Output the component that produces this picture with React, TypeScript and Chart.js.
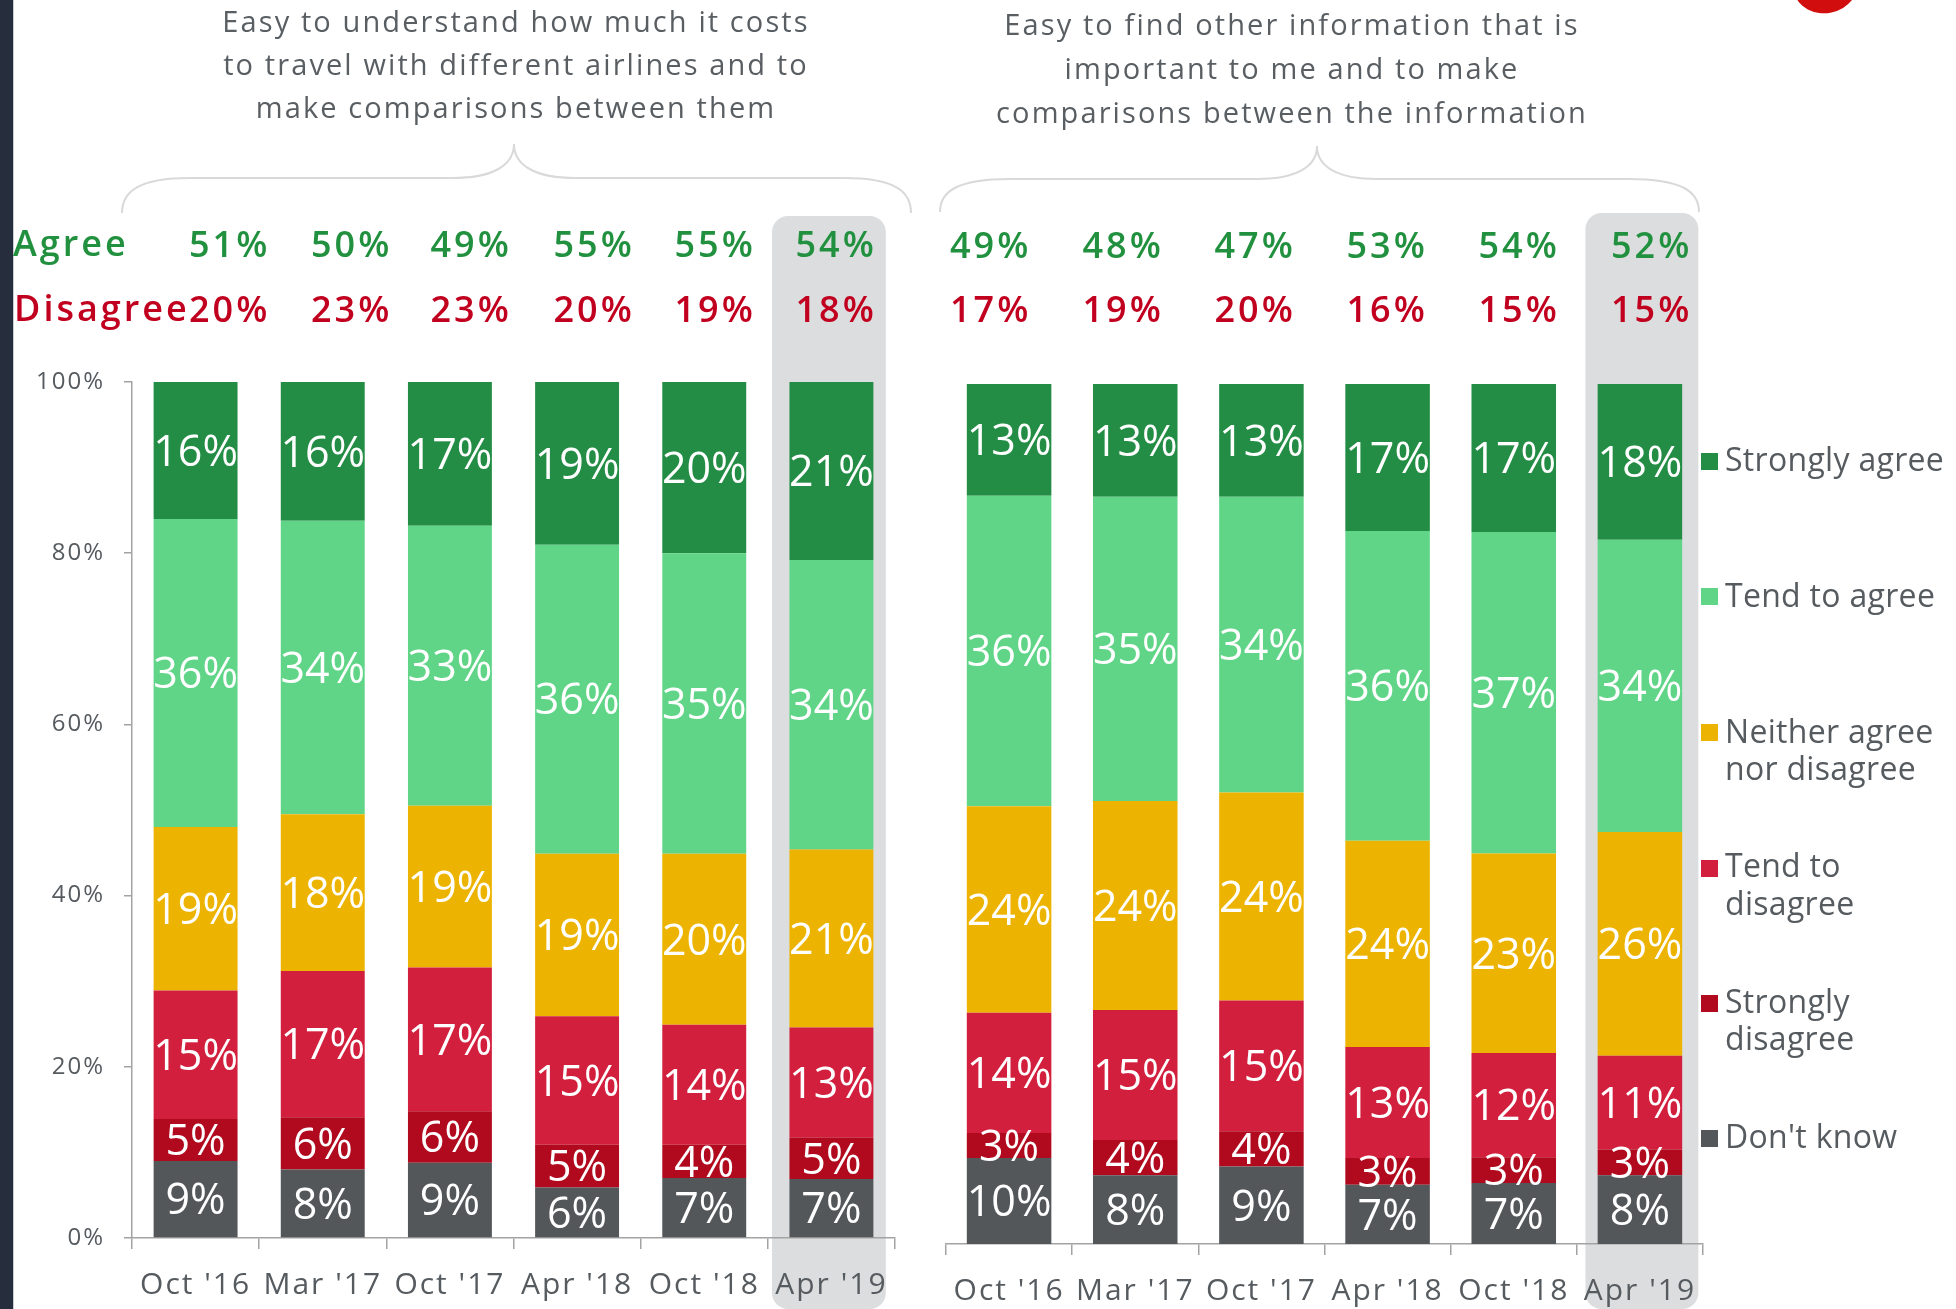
import React, { useEffect, useRef } from "react";
import { Chart, registerables } from "chart.js";

Chart.register(...registerables);

// ---------------- DATA ----------------
const categories = ["Oct '16", "Mar '17", "Oct '17", "Apr '18", "Oct '18", "Apr '19"];
const seriesNames = [
  "Don't know",
  "Strongly disagree",
  "Tend to disagree",
  "Neither agree nor disagree",
  "Tend to agree",
  "Strongly agree",
];
const seriesColors = ["#53575a", "#b1091d", "#d21f3d", "#ecb400", "#60d587", "#248d45"];

// Left panel: "Easy to understand how much it costs ..."
const dontKnowL = [9.0, 8.0, 8.8, 5.9, 7.0, 6.9];
const stronglyDisagreeL = [4.9, 6.1, 6.0, 5.0, 3.9, 4.8];
const tendDisagreeL = [15.0, 17.1, 16.8, 15.0, 14.0, 12.9];
const neitherL = [19.1, 18.3, 18.9, 19.0, 20.0, 20.8];
const tendAgreeL = [36.0, 34.3, 32.7, 36.1, 35.1, 33.8];
const stronglyAgreeL = [16.0, 16.2, 16.8, 19.0, 20.0, 20.8];
const agreeL = [51, 50, 49, 55, 55, 54];
const disagreeL = [20, 23, 23, 20, 19, 18];

// Right panel: "Easy to find other information ..."
const dontKnowR = [10.0, 8.0, 9.0, 6.9, 7.1, 8.0];
const stronglyDisagreeR = [2.9, 4.1, 4.1, 3.1, 3.0, 3.0];
const tendDisagreeR = [14.0, 15.1, 15.2, 12.9, 12.1, 10.9];
const neitherR = [24.0, 24.3, 24.2, 24.0, 23.2, 26.0];
const tendAgreeR = [36.1, 35.4, 34.4, 36.0, 37.4, 34.0];
const stronglyAgreeR = [13.0, 13.1, 13.1, 17.1, 17.2, 18.1];
const agreeR = [49, 48, 47, 53, 54, 52];
const disagreeR = [17, 19, 20, 16, 15, 15];

const yTickValues = [0, 20, 40, 60, 80, 100];

const titleL = [
  "Easy to understand how much it costs",
  "to travel with different airlines and to",
  "make comparisons between them",
];
const titleR = [
  "Easy to find other information that is",
  "important to me and to make",
  "comparisons between the information",
];
const legendLines = [
  ["Strongly agree"],
  ["Tend to agree"],
  ["Neither agree", "nor disagree"],
  ["Tend to", "disagree"],
  ["Strongly", "disagree"],
  ["Don't know"],
];
const legendColors = ["#248d45", "#60d587", "#ecb400", "#d21f3d", "#b1091d", "#53575a"];

// ---------------- LAYOUT / STYLE ----------------
const W = 1956;
const H = 1309;
const FONT = '"Open Sans", "Noto Sans", sans-serif';
const GRAY_TEXT = "#565b60";
const AXIS = "#a3a3a3";
const GREEN = "#22913f";
const RED = "#c1001f";
const HL = "#dcdddf";

const headerXL = [189, 311, 430.5, 553.5, 674.5, 795.5];
const headerXR = [950, 1082.5, 1214.5, 1346.5, 1478.5, 1611];

const OS_ASC = 1.069;
const OS_LH = 1.362;

// ---------------- PLUGINS ----------------
const highlightPlugin = {
  id: "highlight",
  beforeDraw(chart: any, _args: any, opts: any) {
    const xs = chart.scales.x;
    const n = chart.data.labels.length;
    const cx = xs.getPixelForValue(n - 1) + opts.shift;
    const w = (xs.width / n) * opts.widthRatio;
    const ctx = chart.ctx;
    ctx.save();
    ctx.fillStyle = opts.color;
    ctx.beginPath();
    ctx.roundRect(cx - w / 2, opts.top, w, chart.height - opts.top, opts.radius);
    ctx.fill();
    ctx.restore();
    ctx.letterSpacing = opts.letterSpacing;
  },
};

const segLabelPlugin = {
  id: "segLabels",
  afterDatasetsDraw(chart: any, _args: any, opts: any) {
    const ctx = chart.ctx;
    ctx.save();
    ctx.letterSpacing = "0px";
    ctx.font = `500 ${opts.size}px ${FONT}`;
    ctx.fillStyle = "#ffffff";
    ctx.textAlign = "center";
    ctx.textBaseline = "alphabetic";
    chart.data.datasets.forEach((ds: any, di: number) => {
      const meta = chart.getDatasetMeta(di);
      meta.data.forEach((bar: any, i: number) => {
        const v = ds.data[i];
        const cy = (bar.y + bar.base) / 2;
        ctx.fillText(Math.round(v) + "%", bar.x, cy + opts.size * 0.357);
      });
    });
    ctx.restore();
  },
};

function makeConfig(series: number[][], side: "L" | "R") {
  const isL = side === "L";
  return {
    type: "bar" as const,
    data: {
      labels: categories,
      datasets: series.map((d, i) => ({
        label: seriesNames[i],
        data: d,
        backgroundColor: seriesColors[i],
        borderWidth: 0,
        barPercentage: isL ? 0.66 : 0.67,
        categoryPercentage: 1,
      })),
    },
    plugins: [highlightPlugin, segLabelPlugin],
    options: {
      responsive: false,
      animation: false as const,
      layout: {
        padding: isL
          ? { left: 0, right: 35, top: 382, bottom: 0 }
          : { left: 16, right: 253, top: 384, bottom: 0 },
      },
      plugins: {
        legend: { display: false },
        tooltip: { enabled: false },
        highlight: {
          top: isL ? 216 : 213,
          shift: isL ? -2.5 : 2,
          widthRatio: 0.895,
          radius: 16,
          color: HL,
          letterSpacing: "2px",
        },
        segLabels: { size: 43 },
      },
      scales: {
        x: {
          stacked: true,
          afterFit: (scale: any) => {
            scale.height = isL ? 71 : 65;
          },
          ticks: {
            font: { family: FONT, size: 30 },
            color: GRAY_TEXT,
            padding: 18,
            autoSkip: false,
            maxRotation: 0,
            minRotation: 0,
          },
          grid: {
            drawOnChartArea: false,
            drawTicks: true,
            tickLength: 11,
            color: AXIS,
            lineWidth: 1.5,
            offset: true,
          },
          border: { display: true, color: AXIS, width: 1.5 },
        },
        y: {
          stacked: true,
          display: isL,
          min: 0,
          max: 100,
          afterBuildTicks: (scale: any) => {
            scale.ticks = yTickValues.map((v) => ({ value: v }));
          },
          afterFit: (scale: any) => {
            scale.width = isL ? 132 : 0;
          },
          ticks: {
            callback: (v: any) => v + "%",
            font: { family: FONT, size: 24 },
            color: GRAY_TEXT,
            padding: 19,
          },
          grid: {
            drawOnChartArea: false,
            drawTicks: true,
            tickLength: 8,
            color: AXIS,
            lineWidth: 1.5,
          },
          border: { display: true, color: AXIS, width: 1.5 },
        },
      },
    },
  };
}

function ChartCanvas({ left, width, series, side }: any) {
  const ref = useRef<HTMLCanvasElement | null>(null);
  useEffect(() => {
    if (!ref.current) return;
    const chart = new Chart(ref.current, makeConfig(series, side) as any);
    return () => chart.destroy();
  }, []);
  return (
    <canvas
      ref={ref}
      width={width}
      height={H}
      style={{ position: "absolute", left, top: 0, width, height: H }}
    />
  );
}

function Txt({ x, baseline, size, weight = 400, color = GRAY_TEXT, ls = 0, align = "left", width, children }: any) {
  return (
    <div
      style={{
        position: "absolute",
        left: x,
        top: baseline - OS_ASC * size,
        width,
        fontFamily: FONT,
        fontSize: size,
        fontWeight: weight,
        lineHeight: `${OS_LH * size}px`,
        letterSpacing: ls,
        color,
        whiteSpace: "nowrap",
        textAlign: align,
      }}
    >
      {children}
    </div>
  );
}

export default function App() {
  const seriesL = [dontKnowL, stronglyDisagreeL, tendDisagreeL, neitherL, tendAgreeL, stronglyAgreeL];
  const seriesR = [dontKnowR, stronglyDisagreeR, tendDisagreeR, neitherR, tendAgreeR, stronglyAgreeR];
  const titleBaseL = [32, 75, 118];
  const titleBaseR = [35, 79, 123];
  const legendSquareTop = [453, 588, 724, 860, 995, 1130];
  const legendBase = [[471], [607], [743, 780], [877, 915], [1013, 1050], [1148]];

  return (
    <div
      style={{
        position: "absolute",
        left: 0,
        top: 0,
        width: W,
        height: H,
        background: "#ffffff",
        overflow: "hidden",
      }}
    >
      {/* left dark strip */}
      <div style={{ position: "absolute", left: 0, top: 0, width: 13, height: H, background: "#262e3d" }} />
      <div style={{ position: "absolute", left: 13, top: 0, width: 1, height: H, background: "#c9cdd3" }} />
      {/* partial logo at top right */}
      <div
        style={{
          position: "absolute",
          left: 1794,
          top: -40,
          width: 64,
          height: 53,
          borderRadius: "50%",
          background: "#d20d0d",
          transform: "rotate(-12deg)",
        }}
      />
      {/* braces */}
      <svg width={W} height={H} style={{ position: "absolute", left: 0, top: 0 }}>
        <path
          d="M122,213 C122,192 138,178 190,178 L452,178 C492,178 514,166 514,144 C514,166 536,178 576,178 L844,178 C896,178 911,192 911,213"
          fill="none"
          stroke="#d9d9d9"
          strokeWidth={2}
        />
        <path
          d="M940,212 C940,192 956,179 1010,179 L1257,179 C1296,179 1317,167 1317,146 C1317,167 1338,179 1377,179 L1628,179 C1683,179 1699,192 1699,212"
          fill="none"
          stroke="#d9d9d9"
          strokeWidth={2}
        />
      </svg>

      <ChartCanvas left={0} width={930} series={seriesL} side="L" />
      <ChartCanvas left={930} width={1026} series={seriesR} side="R" />

      {/* titles */}
      {titleL.map((t, i) => (
        <Txt key={"tl" + i} x={16} width={1000} align="center" baseline={titleBaseL[i]} size={29} ls={2.1} color="#595e63">
          {t}
        </Txt>
      ))}
      {titleR.map((t, i) => (
        <Txt key={"tr" + i} x={792} width={1000} align="center" baseline={titleBaseR[i]} size={29} ls={2.1} color="#595e63">
          {t}
        </Txt>
      ))}

      {/* header rows */}
      <Txt x={13} baseline={256} size={36} weight={600} ls={3} color={GREEN}>
        Agree
      </Txt>
      <Txt x={14} baseline={321} size={36} weight={600} ls={3} color={RED}>
        Disagree
      </Txt>
      {agreeL.map((v, i) => (
        <Txt key={"al" + i} x={headerXL[i]} baseline={257} size={36} weight={600} ls={3} color={GREEN}>
          {v + "%"}
        </Txt>
      ))}
      {disagreeL.map((v, i) => (
        <Txt key={"dl" + i} x={headerXL[i]} baseline={322} size={36} weight={600} ls={3} color={RED}>
          {v + "%"}
        </Txt>
      ))}
      {agreeR.map((v, i) => (
        <Txt key={"ar" + i} x={headerXR[i]} baseline={258} size={36} weight={600} ls={3} color={GREEN}>
          {v + "%"}
        </Txt>
      ))}
      {disagreeR.map((v, i) => (
        <Txt key={"dr" + i} x={headerXR[i]} baseline={322} size={36} weight={600} ls={3} color={RED}>
          {v + "%"}
        </Txt>
      ))}

      {/* legend */}
      {legendLines.map((lines, i) => (
        <React.Fragment key={"lg" + i}>
          <div
            style={{
              position: "absolute",
              left: 1701,
              top: legendSquareTop[i],
              width: 17,
              height: 17,
              background: legendColors[i],
            }}
          />
          {lines.map((ln, j) => (
            <Txt key={"lgt" + i + "_" + j} x={1725} baseline={legendBase[i][j]} size={32} ls={0.3}>
              {ln}
            </Txt>
          ))}
        </React.Fragment>
      ))}
    </div>
  );
}
